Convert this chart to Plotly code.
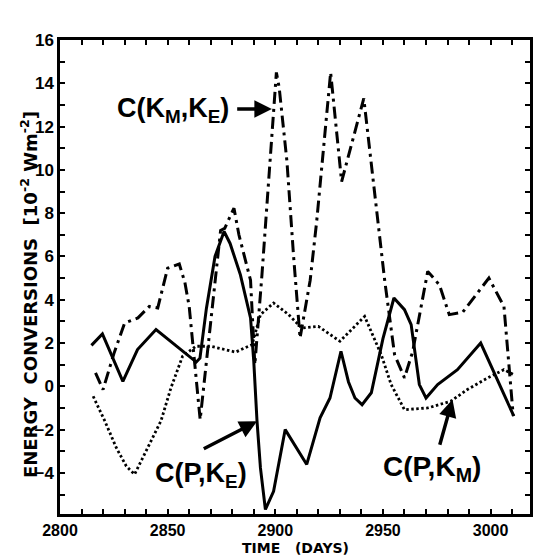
import plotly.graph_objects as go

# ---- data ----
days_pke = [2814.6, 2819.7, 2829.2, 2836.0, 2844.6, 2860.0, 2863.3, 2865.0, 2868.0, 2872.0, 2876.2,
            2879.0, 2883.8, 2888.5, 2890.0, 2891.5, 2893.1, 2895.4, 2899.2, 2904.6, 2914.6, 2920.8,
            2925.4, 2930.5, 2934.0, 2937.0, 2940.3, 2944.6, 2950.0, 2955.1, 2960.0, 2963.1, 2966.9,
            2970.0, 2975.4, 2984.6, 2995.4, 3010.8]
c_p_ke = [1.89, 2.42, 0.23, 1.7, 2.62, 1.38, 1.12, 1.3, 3.6, 6.0, 7.15,
          6.6, 5.15, 3.16, 1.15, -1.6, -3.77, -5.69, -4.85, -2.0, -3.61, -1.46,
          -0.54, 1.62, 0.2, -0.54, -0.85, -0.3, 2.2, 4.08, 3.54, 2.85, 0.08,
          -0.54, 0.08, 0.77, 2.0, -1.38]

days_kmke = [2816.5, 2820.0, 2825.0, 2830.0, 2836.2, 2841.5, 2845.4, 2850.0, 2855.4, 2858.0, 2860.0,
             2865.1, 2874.6, 2876.5, 2880.8, 2883.1, 2888.5, 2890.5, 2893.8, 2899.2, 2900.5, 2901.8,
             2905.4, 2908.5, 2911.5, 2916.2, 2919.2, 2925.7, 2930.8, 2941.1, 2950.8, 2955.4, 2960.0,
             2963.8, 2970.8, 2976.2, 2980.8, 2987.0, 2999.2, 3006.2, 3010.5]
c_km_ke = [0.62, -0.15, 1.5, 2.92, 3.16, 3.69, 3.62, 5.46, 5.65, 4.8, 3.69,
           -1.54, 7.2, 7.3, 8.23, 7.0, 4.9, 1.0, 5.15, 12.9, 14.5, 13.8,
           10.4, 6.0, 2.23, 4.9, 7.6, 14.5, 9.46, 13.3, 4.9, 1.46, 0.39,
           1.6, 5.31, 4.69, 3.31, 3.42, 5.0, 3.69, -1.35]

days_pkm = [2815.4, 2820.8, 2826.2, 2830.8, 2834.6, 2840.8, 2846.9, 2851.5, 2856.9, 2863.1, 2870.0,
            2881.5, 2889.2, 2893.1, 2899.2, 2906.2, 2912.3, 2920.0, 2930.0, 2941.5, 2949.2, 2953.8,
            2960.0, 2970.8, 2981.5, 2989.2, 2998.5, 3006.2, 3010.8]
c_p_km = [-0.46, -1.6, -2.85, -3.69, -4.07, -2.85, -1.6, -0.08, 1.38, 1.85, 1.85,
          1.58, 1.92, 3.31, 3.85, 3.31, 2.69, 2.77, 2.08, 3.23, 1.46, 0.08,
          -1.08, -1.0, -0.69, -0.15, 0.38, 0.77, 0.54]

x_range = [2800, 3018.3]
y_range = [-5.9, 16]
x_tickvals = [2800, 2850, 2900, 2950, 3000]
y_tickvals = [-4, -2, 0, 2, 4, 6, 8, 10, 12, 14, 16]

FONT = "Liberation Sans, Arial, sans-serif"
TFONT = "DejaVu Sans, sans-serif"

fig = go.Figure()
fig.add_trace(go.Scatter(x=days_pkm, y=c_p_km, mode="lines",
                         line=dict(color="black", width=2.8, dash="2.5px,2.5px"),
                         hoverinfo="skip", showlegend=False))
fig.add_trace(go.Scatter(x=days_kmke, y=c_km_ke, mode="lines",
                         line=dict(color="black", width=3, dash="12px,5px,3px,5px"),
                         hoverinfo="skip", showlegend=False))
fig.add_trace(go.Scatter(x=days_pke, y=c_p_ke, mode="lines",
                         line=dict(color="black", width=3),
                         hoverinfo="skip", showlegend=False))

ann_font = dict(family=FONT, size=27, color="black", weight="bold")
arrow_kw = dict(showarrow=True, arrowhead=2, arrowsize=1.0, arrowwidth=3.5,
                arrowcolor="black", axref="x", ayref="y", text="")

annotations = [
    # curve labels
    dict(x=2879.2, y=12.75, xref="x", yref="y", xanchor="right", yanchor="middle",
         text="<b>C(K<sub>M</sub>,K<sub>E</sub>)</b>", showarrow=False, font=ann_font),
    dict(x=2843.1, y=-4.1, xref="x", yref="y", xanchor="left", yanchor="middle",
         text="<b>C(P,K<sub>E</sub>)</b>", showarrow=False, font=ann_font),
    dict(x=2949.2, y=-3.8, xref="x", yref="y", xanchor="left", yanchor="middle",
         text="<b>C(P,K<sub>M</sub>)</b>", showarrow=False, font=dict(ann_font, size=28)),
    # arrows
    dict(x=2898.4, y=12.81, ax=2881.6, ay=12.81, xref="x", yref="y", **arrow_kw),
    dict(x=2891.5, y=-1.62, ax=2866.1, ay=-2.92, xref="x", yref="y", **arrow_kw),
    dict(x=2982.3, y=-0.61, ax=2976.2, ay=-2.77, xref="x", yref="y", **arrow_kw),
    dict(x=2891, y=16.05, ax=2891, ay=17.5, xref="x", yref="y", **arrow_kw),
    # axis titles
    dict(x=-31 / 473, y=(514.3 - 295) / 474.3, xref="paper", yref="paper",
         xanchor="center", yanchor="middle", textangle=-90, showarrow=False,
         text="<b>ENERGY  CONVERSIONS  [10<sup>-2</sup> Wm<sup>-2</sup>]</b>",
         font=dict(family=TFONT, size=18, color="black", weight="bold")),
    dict(x=0.5, y=(514.3 - 548) / 474.3, xref="paper", yref="paper",
         xanchor="center", yanchor="middle", showarrow=False,
         text="<b>TIME   (DAYS)</b>",
         font=dict(family=TFONT, size=14, color="black", weight="bold")),
]

fig.update_layout(
    width=533, height=556,
    margin=dict(l=60, r=0, t=40, b=42, pad=0),
    plot_bgcolor="white", paper_bgcolor="white",
    annotations=annotations,
    showlegend=False,
)

fig.update_xaxes(
    range=x_range, tickvals=x_tickvals, showgrid=False, zeroline=False,
    showline=True, linecolor="black", linewidth=2.5, mirror="ticks",
    ticks="inside", ticklen=5, tickwidth=1.5, tickcolor="black",
    minor=dict(dtick=10, tick0=2800, ticks="inside", ticklen=5, tickwidth=1.5, tickcolor="black", showgrid=False),
    tickfont=dict(family=FONT, size=16, color="black", weight="bold"),
    ticklabelstandoff=0,
)
fig.update_yaxes(
    range=y_range, tickvals=y_tickvals, showgrid=False, zeroline=False,
    showline=True, linecolor="black", linewidth=2.5, mirror="ticks",
    ticks="inside", ticklen=5, tickwidth=1.5, tickcolor="black",
    minor=dict(dtick=1, tick0=0, ticks="inside", ticklen=5, tickwidth=1.5, tickcolor="black", showgrid=False),
    tickfont=dict(family=FONT, size=17, color="black", weight="bold"),
)

fig.write_html("out.html")
